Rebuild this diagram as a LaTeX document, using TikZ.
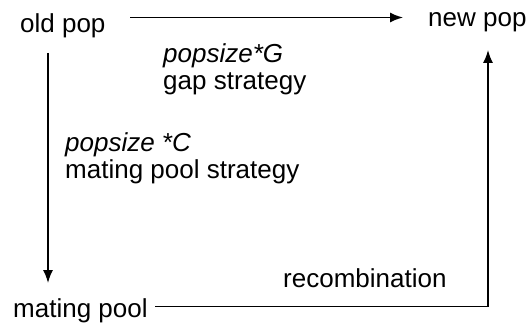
\documentclass[tikz,border=0pt]{standalone}
\usepackage{fontspec}
\setmainfont{Liberation Sans}
\usepackage{tikz}
\usetikzlibrary{arrows.meta}

\begin{document}
\begin{tikzpicture}[x=1pt, y=-1pt, font=\fontsize{26}{27}\selectfont]
\useasboundingbox (0,0) rectangle (529,323);

\tikzstyle{popnode}=[inner sep=0pt, anchor=base west]
\tikzstyle{poplabel}=[inner sep=0pt, anchor=base west, align=left]
\tikzstyle{poparrow}=[line width=1.5pt, -{Latex[length=13pt,width=10pt]}]

\node[popnode] (old) at (20,33) {old pop};
\node[popnode] (new) at (428,27) {new pop};
\node[popnode] (mpool) at (13,317) {mating pool};

% base of a two-line label sits on its last line
\node[poplabel] (gaplabel) at (163,90) {\itshape popsize*G\\gap strategy};
\node[poplabel] (poollabel) at (65,178) {\itshape popsize *C\\mating pool strategy};
\node[poplabel] (recomb) at (283,287) {recombination};

% selection paths
\draw[poparrow] ([shift={(110,-15.5)}]old.base west) -- ([shift={(-25,-9.5)}]new.base west);
\draw[poparrow] ([shift={(28,20)}]old.base west) -- ([shift={(35,-34)}]mpool.base west);
\draw[poparrow] ([shift={(142,-10.5)}]mpool.base west) -| ([shift={(60,23)}]new.base west);
\end{tikzpicture}
\end{document}
